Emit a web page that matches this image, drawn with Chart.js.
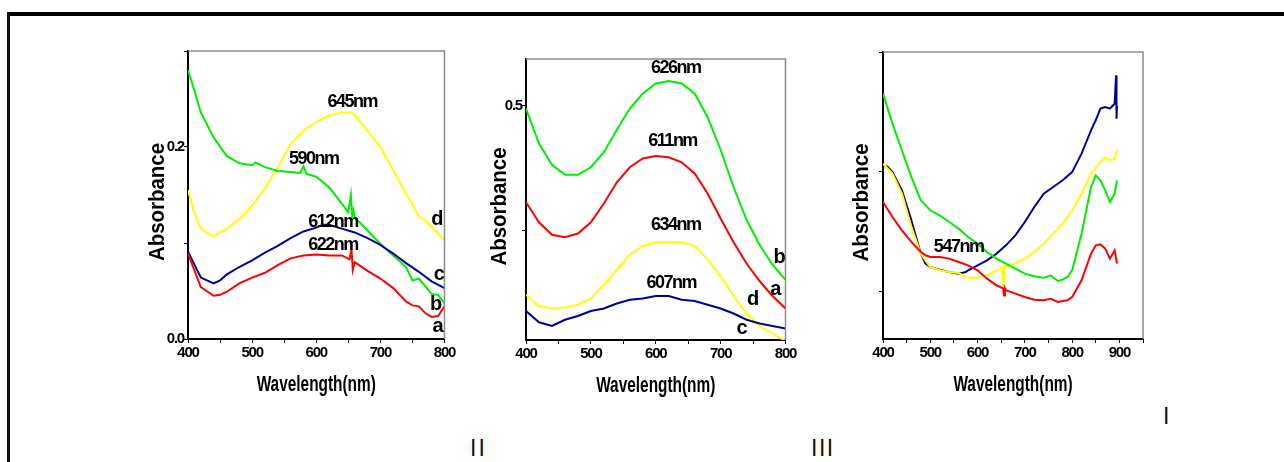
<!DOCTYPE html>
<html>
<head>
<meta charset="utf-8">
<script src="https://cdn.jsdelivr.net/npm/chart.js@4.4.1/dist/chart.umd.min.js"></script>
<style>
  body { margin: 0; background: #fff; width: 1284px; height: 462px; overflow: hidden; position: relative; font-family: "Liberation Sans", Arial, sans-serif; }
  .box { position: absolute; }
  .roman { position: absolute; font-size: 23px; line-height: 23px; color: #111; }
</style>
</head>
<body>
<div class="box" style="left:7px;top:12px;width:1277px;height:4px;background:#000"></div>
<div class="box" style="left:7px;top:12px;width:3px;height:450px;background:#111"></div>
<div class="box" id="w1"><canvas id="c1"></canvas></div>
<div class="box" id="w2"><canvas id="c2"></canvas></div>
<div class="box" id="w3"><canvas id="c3"></canvas></div>
<div class="roman" style="left:1163px;top:405px">I</div>
<div class="roman" style="left:470px;top:437px;letter-spacing:2px">II</div>
<div class="roman" style="left:811px;top:437px;letter-spacing:1.5px">III</div>
<script>
// colours of the four samples
const RED = '#ff0000', GREEN = '#00ee00', BLUE = '#000099', YELLOW = '#ffff00';

// ---- panel 1 ----
const p1aX = [400,420,440,450,460,480,500,520,540,560,580,600,620,640,652,655,657,660,680,700,720,740,750,760,770,780,790,800];
const p1aY = [0.089,0.054,0.045,0.046,0.049,0.058,0.064,0.069,0.077,0.084,0.087,0.088,0.087,0.087,0.083,0.093,0.072,0.080,0.071,0.063,0.053,0.039,0.035,0.034,0.027,0.023,0.024,0.034];
const p1bX = [400,410,420,440,460,480,500,505,520,540,560,575,580,585,600,620,640,650,654,656,658,660,680,700,720,740,750,760,780,790,800];
const p1bY = [0.280,0.259,0.236,0.210,0.191,0.183,0.181,0.184,0.179,0.175,0.174,0.173,0.180,0.172,0.169,0.158,0.141,0.132,0.150,0.128,0.134,0.127,0.113,0.099,0.087,0.075,0.061,0.063,0.047,0.046,0.037];
const p1cX = [400,420,440,450,460,480,500,520,540,560,580,600,610,620,640,660,680,700,720,740,760,780,800];
const p1cY = [0.091,0.064,0.058,0.061,0.067,0.075,0.082,0.090,0.097,0.105,0.112,0.116,0.119,0.119,0.115,0.111,0.105,0.098,0.089,0.079,0.070,0.060,0.053];
const p1dX = [400,410,420,440,460,480,500,520,540,560,580,600,620,640,655,660,680,700,720,740,750,760,770,780,800];
const p1dY = [0.155,0.131,0.115,0.107,0.115,0.125,0.139,0.157,0.179,0.203,0.217,0.226,0.233,0.236,0.236,0.233,0.217,0.200,0.176,0.151,0.141,0.127,0.124,0.117,0.103];
const p1Ticks = [0, 0.1, 0.2, 0.3];
const p1TickLabels = ['0.0', '', '0.2', ''];
const p1Notes = [
  {text: '645nm', x: 656, y: 0.247}, {text: '590nm', x: 596, y: 0.187},
  {text: '612nm', x: 626, y: 0.122}, {text: '622nm', x: 626, y: 0.098},
  {text: 'd', x: 789, y: 0.124}, {text: 'c', x: 792, y: 0.067},
  {text: 'b', x: 787, y: 0.036}, {text: 'a', x: 790, y: 0.013}
];

// ---- panel 2 ----
const p2X = [400,420,440,460,480,500,520,540,560,580,600,620,640,660,680,700,720,740,760,780,800];
const p2a = [0.423,0.407,0.397,0.395,0.398,0.407,0.422,0.439,0.451,0.458,0.460,0.459,0.455,0.446,0.430,0.410,0.391,0.374,0.360,0.348,0.338];
const p2b = [0.498,0.470,0.453,0.445,0.445,0.451,0.463,0.481,0.498,0.510,0.518,0.520,0.518,0.510,0.491,0.465,0.435,0.409,0.389,0.373,0.361];
const p2c = [0.336,0.327,0.324,0.329,0.332,0.336,0.338,0.342,0.345,0.346,0.348,0.348,0.345,0.344,0.341,0.338,0.334,0.329,0.326,0.324,0.322];
const p2d = [0.349,0.340,0.338,0.339,0.341,0.346,0.357,0.369,0.381,0.388,0.391,0.391,0.391,0.388,0.377,0.364,0.348,0.334,0.324,0.318,0.312];
const p2Ticks = [0.4, 0.5];
const p2TickLabels = ['', '0.5'];
const p2Notes = [
  {text: '626nm', x: 631, y: 0.530}, {text: '611nm', x: 626, y: 0.472},
  {text: '634nm', x: 631, y: 0.405}, {text: '607nm', x: 624, y: 0.358},
  {text: 'b', x: 791, y: 0.379}, {text: 'a', x: 785, y: 0.353},
  {text: 'd', x: 750, y: 0.3455}, {text: 'c', x: 733, y: 0.3223}
];

// ---- panel 3 (arbitrary units) ----
const p3gX = [400,420,440,460,480,500,520,540,560,580,600,620,640,660,680,700,720,740,755,760,770,780,790,800,820,840,850,860,870,880,890,895];
const p3gY = [2.653,2.403,2.181,1.958,1.764,1.681,1.639,1.583,1.528,1.458,1.403,1.333,1.278,1.236,1.194,1.153,1.131,1.119,1.139,1.120,1.092,1.103,1.125,1.181,1.486,1.875,1.972,1.931,1.847,1.750,1.820,1.930];
const p3rX = [400,420,440,460,480,490,500,520,540,560,580,600,620,640,654,656,658,660,680,700,720,740,755,770,790,800,820,840,850,860,870,880,890,895];
const p3rY = [1.750,1.625,1.514,1.417,1.333,1.306,1.292,1.292,1.278,1.250,1.222,1.181,1.111,1.056,1.030,0.970,1.030,1.014,0.986,0.958,0.936,0.931,0.944,0.917,0.931,0.958,1.097,1.319,1.389,1.397,1.361,1.278,1.347,1.236];
const p3bX = [400,410,420,440,460,470,480,490,500,520,540,560,575,580,600,620,640,660,680,700,720,740,760,780,800,820,840,850,860,870,880,890,893,894,895];
const p3bY = [2.056,2.042,2.000,1.847,1.597,1.458,1.319,1.236,1.208,1.186,1.167,1.153,1.167,1.181,1.222,1.264,1.319,1.389,1.472,1.583,1.708,1.819,1.875,1.931,1.999,2.153,2.347,2.431,2.528,2.542,2.528,2.569,2.806,2.444,2.550];
const p3yX = [400,420,440,460,480,500,520,540,560,580,600,620,640,653,655,657,660,680,700,720,740,760,780,800,820,840,860,870,880,890,895];
const p3yY = [2.069,1.986,1.819,1.542,1.319,1.208,1.181,1.167,1.158,1.119,1.119,1.139,1.181,1.208,1.028,1.208,1.208,1.242,1.278,1.333,1.403,1.486,1.569,1.681,1.819,1.986,2.083,2.125,2.097,2.111,2.181];
const p3Ticks = [1, 2, 3];
const p3TickLabels = ['', '', ''];
const p3Notes = [{text: '547nm', x: 560, y: 1.375}];

const xTicks48 = [400,450,500,550,600,650,700,750,800];
const xLabels48 = ['400','','500','','600','','700','','800'];
const xTicks49 = [400,450,500,550,600,650,700,750,800,850,900,950];
const xLabels49 = ['400','','500','','600','','700','','800','','900',''];

function pts(xs, ys) { return xs.map((x, i) => ({x: x, y: ys[i]})); }
function line(data, color) {
  return {data: data, borderColor: color, backgroundColor: color, borderWidth: 2, pointRadius: 0, tension: 0};
}

const textPlugin = {
  id: 'panelText',
  beforeDraw(chart) { chart.ctx.letterSpacing = '-1.2px'; },
  afterDraw(chart, args, opts) {
    const ctx = chart.ctx, a = chart.chartArea, sx = chart.scales.x, sy = chart.scales.y;
    ctx.save();
    ctx.strokeStyle = '#8c8c8c';
    ctx.lineWidth = 1.5;
    ctx.beginPath();
    ctx.moveTo(a.left, a.top); ctx.lineTo(a.right, a.top); ctx.lineTo(a.right, a.bottom);
    ctx.stroke();
    ctx.fillStyle = '#000';
    ctx.textAlign = 'center';
    ctx.textBaseline = 'middle';
    opts.notes.forEach(n => {
      const single = n.text.length === 1;
      ctx.letterSpacing = single ? '0px' : '-1.5px';
      ctx.font = 'bold ' + (single ? 20 : 18) + 'px "Liberation Sans", Arial, sans-serif';
      ctx.fillText(n.text, sx.getPixelForValue(n.x), sy.getPixelForValue(n.y));
    });
    ctx.letterSpacing = '0px';
    ctx.font = 'bold 22px "Liberation Sans", Arial, sans-serif';
    ctx.save();
    ctx.translate((a.left + a.right) / 2, a.bottom + 46);
    ctx.scale(0.7, 1);
    ctx.fillText('Wavelength(nm)', 0, 0);
    ctx.restore();
    ctx.save();
    ctx.translate(a.left - opts.yOff, (a.top + a.bottom) / 2 + 7);
    ctx.rotate(-Math.PI / 2);
    ctx.scale(0.93, 1);
    ctx.fillText('Absorbance', 0, 0);
    ctx.restore();
    ctx.restore();
  }
};

function panel(id, box, datasets, xr, xt, xl, yr, yt, yl, notes, yOff) {
  const wrap = document.getElementById('w' + id);
  const w = box.r - box.l + 72, h = box.b - box.t + 90;
  wrap.style.left = (box.l - 60) + 'px';
  wrap.style.top = (box.t - 10) + 'px';
  wrap.style.width = w + 'px';
  wrap.style.height = h + 'px';
  const axisFont = {family: '"Liberation Sans", Arial, sans-serif', size: 15, weight: 'bold'};
  new Chart(document.getElementById('c' + id), {
    type: 'line',
    data: {datasets: datasets},
    plugins: [textPlugin],
    options: {
      responsive: true,
      maintainAspectRatio: false,
      animation: false,
      layout: {padding: {left: 0, top: 10, right: 12, bottom: 50}},
      plugins: {legend: {display: false}, tooltip: {enabled: false}, panelText: {notes: notes, yOff: yOff}},
      scales: {
        x: {
          type: 'linear', min: xr[0], max: xr[1],
          afterBuildTicks: s => { s.ticks = xt.map(v => ({value: v})); },
          afterFit: s => { s.height = 30; },
          ticks: {color: '#000', font: axisFont, padding: 1, maxRotation: 0, autoSkip: false,
                  callback: (v, i) => xl[i]},
          grid: {drawOnChartArea: false, drawTicks: true, tickLength: 4, color: '#000'},
          border: {color: '#000', width: 2}
        },
        y: {
          type: 'linear', min: yr[0], max: yr[1],
          afterBuildTicks: s => { s.ticks = yt.map(v => ({value: v})); },
          afterFit: s => { s.width = 60; },
          ticks: {color: '#000', font: axisFont, padding: 0, autoSkip: false,
                  callback: (v, i) => yl[i]},
          grid: {drawOnChartArea: false, drawTicks: true, tickLength: 4, color: '#000'},
          border: {color: '#000', width: 2}
        }
      }
    }
  });
}

panel(1, {l: 188, t: 51, r: 446, b: 339},
  [line(pts(p1aX, p1aY), RED), line(pts(p1cX, p1cY), BLUE), line(pts(p1bX, p1bY), GREEN), line(pts(p1dX, p1dY), YELLOW)],
  [400, 800], xTicks48, xLabels48, [0, 0.3], p1Ticks, p1TickLabels, p1Notes, 30);

panel(2, {l: 526, t: 59, r: 787, b: 340},
  [line(pts(p2X, p2c), BLUE), line(pts(p2X, p2d), YELLOW), line(pts(p2X, p2a), RED), line(pts(p2X, p2b), GREEN)],
  [400, 800], xTicks48, xLabels48, [0.3128, 0.5376], p2Ticks, p2TickLabels, p2Notes, 26);

panel(3, {l: 883, t: 52, r: 1143, b: 339},
  [line(pts(p3rX, p3rY), RED), line(pts(p3gX, p3gY), GREEN), line(pts(p3yX, p3yY), YELLOW), line(pts(p3bX, p3bY), BLUE)],
  [400, 950], xTicks49, xLabels49, [0.6083, 3], p3Ticks, p3TickLabels, p3Notes, 21);
</script>
</body>
</html>
